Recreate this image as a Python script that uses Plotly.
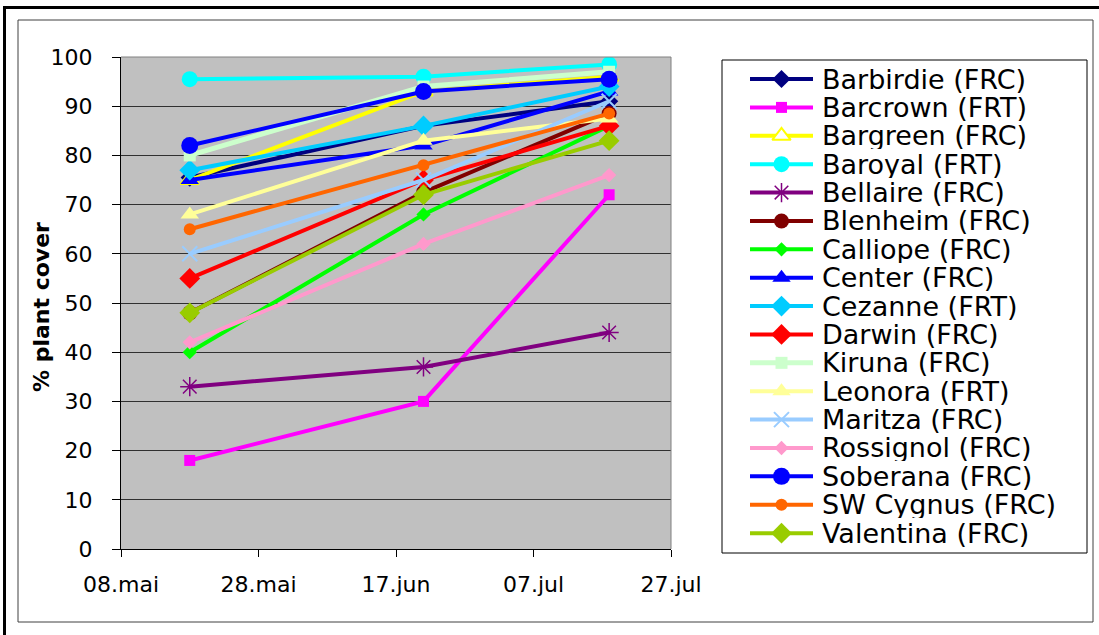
import plotly.graph_objects as go

# ---------------- data ----------------
dates = ["2008-05-18", "2008-06-21", "2008-07-18"]

names = ["Barbirdie (FRC)", "Barcrown (FRT)", "Bargreen (FRC)", "Baroyal (FRT)",
         "Bellaire (FRC)", "Blenheim (FRC)", "Calliope (FRC)", "Center (FRC)",
         "Cezanne (FRT)", "Darwin (FRC)", "Kiruna (FRC)", "Leonora (FRT)",
         "Maritza (FRC)", "Rossignol (FRC)", "Soberana (FRC)", "SW Cygnus (FRC)",
         "Valentina (FRC)"]

barbirdie = [75.5, 86, 91]
barcrown = [18, 30, 72]
bargreen = [75, 93, 96]
baroyal = [95.5, 96, 98.5]
bellaire = [33, 37, 44]
blenheim = [48, 72.5, 88.5]
calliope = [40, 68, 86]
center = [75, 82, 93]
cezanne = [77, 86, 94]
darwin = [55, 75, 86]
kiruna = [80, 94, 97]
leonora = [68, 83, 87.5]
maritza = [60, 75, 91]
rossignol = [42, 62, 76]
soberana = [82, 93, 95.5]
sw_cygnus = [65, 78, 88.5]
valentina = [48, 72, 83]

values = [barbirdie, barcrown, bargreen, baroyal, bellaire, blenheim, calliope,
          center, cezanne, darwin, kiruna, leonora, maritza, rossignol, soberana,
          sw_cygnus, valentina]

y_ticks = [0, 10, 20, 30, 40, 50, 60, 70, 80, 90, 100]
x_tickvals = ["2008-05-08", "2008-05-28", "2008-06-17", "2008-07-07", "2008-07-27"]
x_ticktext = ["08.mai", "28.mai", "17.jun", "07.jul", "27.jul"]

# ---------------- styles ----------------
styles = [
    dict(color="#000080", symbol="diamond", size=14),
    dict(color="#FF00FF", symbol="square", size=11),
    dict(color="#FFFF00", symbol="triangle-up", size=16, fill="#FFFFFF", lw=2),
    dict(color="#00FFFF", symbol="circle", size=16),
    dict(color="#800080", symbol="asterisk-open", size=16, lw=1.5),
    dict(color="#800000", symbol="circle", size=15),
    dict(color="#00FF00", symbol="diamond", size=11),
    dict(color="#0000FF", symbol="triangle-up", size=16),
    dict(color="#00CCFF", symbol="diamond", size=16),
    dict(color="#FF0000", symbol="diamond", size=16),
    dict(color="#CCFFCC", symbol="square", size=12, width=5),
    dict(color="#FFFF99", symbol="triangle-up", size=16),
    dict(color="#99CCFF", symbol="x-thin-open", size=15, lw=2),
    dict(color="#FF99CC", symbol="diamond", size=11),
    dict(color="#0000FF", symbol="circle", size=17),
    dict(color="#FF6600", symbol="circle", size=12),
    dict(color="#99CC00", symbol="diamond", size=16),
]

# body margin is removed by the post script, so figure pixels = window pixels
OX, OY = 0, 0
W, H = 1099, 635
FONT = "DejaVu Sans"

def fx(px):
    return (px - OX) / W

def fy(py):
    return 1 - (py - OY) / H

fig = go.Figure()

def marker_of(st):
    m = dict(symbol=st["symbol"], size=st["size"],
             color=st.get("fill", st["color"]))
    if "lw" in st:
        m["line"] = dict(color=st["color"], width=st["lw"])
    return m

for name, vals, st in zip(names, values, styles):
    fig.add_trace(go.Scatter(
        x=dates, y=vals, name=name, mode="lines+markers",
        line=dict(color=st["color"], width=st.get("width", 4)),
        marker=marker_of(st), showlegend=False, xaxis="x", yaxis="y"))

# manual legend on its own axes
annotations = []
for i, (name, st) in enumerate(zip(names, styles)):
    m = marker_of(st)
    m["opacity"] = [0, 1, 0]
    fig.add_trace(go.Scatter(
        x=[750, 781.5, 813], y=[i, i, i], mode="lines+markers",
        line=dict(color=st["color"], width=st.get("width", 4)),
        marker=m, showlegend=False, hoverinfo="skip",
        xaxis="x2", yaxis="y2", cliponaxis=False))
    annotations.append(dict(
        x=820, y=i, xref="x2", yref="y2", text=name, showarrow=False,
        xanchor="left", yanchor="middle", height=27, valign="middle",
        font=dict(family=FONT, size=27, color="#000000")))

annotations.append(dict(
    x=fx(41), y=fy(307), xref="paper", yref="paper", text="% plant cover",
    textangle=-90, showarrow=False, xanchor="center", yanchor="middle",
    font=dict(family=FONT, size=22, color="#000000", weight="bold")))

shapes = [
    # plot area background (below gridlines)
    dict(type="rect", xref="x domain", yref="y domain", x0=0, x1=1, y0=0, y1=1,
         fillcolor="#C0C0C0", line=dict(width=0), layer="below"),
    # outer frame
    dict(type="rect", xref="paper", yref="paper", x0=fx(4.5), x1=1.05,
         y0=-0.05, y1=fy(7.5), line=dict(color="#000000", width=3)),
    # chart area frame
    dict(type="rect", xref="paper", yref="paper", x0=fx(18), x1=fx(1093),
         y0=fy(622), y1=fy(20), line=dict(color="#404040", width=1)),
    # legend box
    dict(type="rect", xref="paper", yref="paper", x0=fx(722), x1=fx(1087),
         y0=fy(553), y1=fy(60), line=dict(color="#000000", width=1)),
    # plot area top and right borders
    dict(type="line", xref="x domain", yref="y domain", x0=0, x1=1, y0=1, y1=1,
         line=dict(color="#808080", width=1)),
    dict(type="line", xref="x domain", yref="y domain", x0=1, x1=1, y0=0, y1=1,
         line=dict(color="#808080", width=1)),
]

fig.update_layout(
    width=W, height=H, autosize=False,
    margin=dict(l=0, r=0, t=0, b=0, autoexpand=False),
    paper_bgcolor="#FFFFFF", plot_bgcolor="#FFFFFF",
    font=dict(family=FONT, color="#000000"),
    xaxis=dict(type="date", domain=[fx(121), fx(671)],
               range=["2008-05-08", "2008-07-27"],
               tickvals=x_tickvals, ticktext=x_ticktext,
               ticks="outside", ticklen=7, tickcolor="#000000", tickwidth=1,
               showline=True, linecolor="#000000", linewidth=1,
               showgrid=False, zeroline=False, ticklabelstandoff=9,
               tickfont=dict(family=FONT, size=22, color="#000000"),
               fixedrange=True, automargin=False),
    yaxis=dict(domain=[fy(549), fy(57)], range=[0, 100], tickvals=y_ticks,
               ticks="outside", ticklen=8, tickcolor="#000000", tickwidth=1,
               showline=True, linecolor="#000000", linewidth=1,
               showgrid=True, gridcolor="#303030", gridwidth=1,
               zeroline=False, ticklabelstandoff=15,
               tickfont=dict(family=FONT, size=22, color="#000000"),
               fixedrange=True, automargin=False),
    xaxis2=dict(domain=[fx(722), fx(1087)], range=[722, 1087], visible=False,
                fixedrange=True, anchor="y2", automargin=False),
    yaxis2=dict(domain=[fy(553), fy(60)], range=[16.70, -0.67], visible=False,
                fixedrange=True, anchor="x2", automargin=False),
    annotations=annotations,
    shapes=shapes,
    showlegend=False,
)

fig.write_html(
    "out.html",
    config=dict(displayModeBar=False),
    post_script="document.body.style.margin='0';document.body.style.overflow='hidden';",
)
